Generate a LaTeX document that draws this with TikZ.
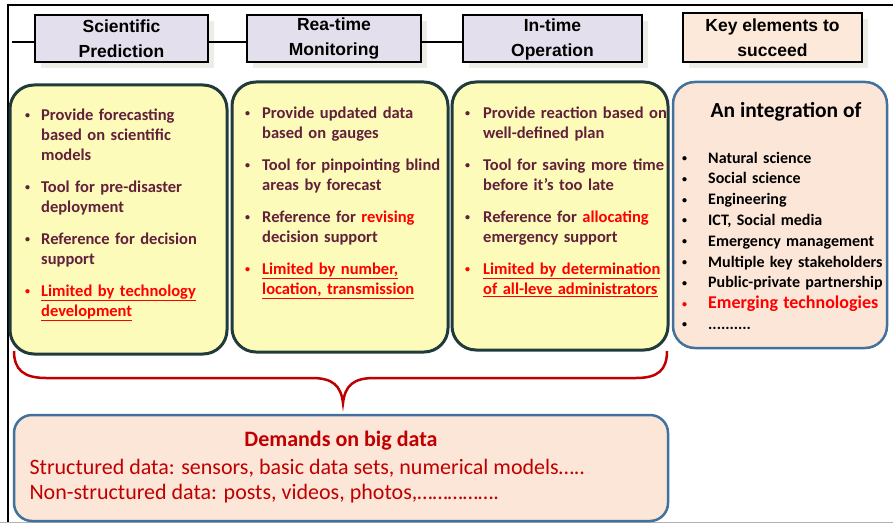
\documentclass[tikz,border=0pt]{standalone}
\usepackage{fontspec}
\setmainfont{Carlito}
\newfontfamily\hdrfont{Liberation Sans}
\usepackage{enumitem}
\usetikzlibrary{positioning, shadows}

\definecolor{hdrfill}{HTML}{E4DFEC}
\definecolor{keyfill}{HTML}{FDE9D9}
\definecolor{yelfill}{HTML}{FCFBBA}
\definecolor{darkedge}{HTML}{213B3C}
\definecolor{blueedge}{HTML}{41719C}
\definecolor{peachfill}{HTML}{FCE6D8}
\definecolor{maroon}{HTML}{62203A}
\definecolor{brightred}{HTML}{FF0000}
\definecolor{darkred}{HTML}{C00000}
\definecolor{shadowgray}{HTML}{EDECE7}

\newcommand{\smbul}{\raisebox{1.5pt}{\fontsize{10}{10}\selectfont\textbullet}}
\newcommand{\redul}[1]{\textcolor{brightred}{\underline{#1}}}
\newcommand{\reditem}{\item[\textcolor{brightred}{\smbul}]}
\setlist[itemize]{label=\smbul, labelwidth=5pt, parsep=0pt, topsep=0pt}

\tikzset{
    hdrbox/.style={draw=black, line width=2pt, fill=hdrfill, minimum height=47pt, inner sep=0pt, align=center,
        font=\hdrfont\bfseries\fontsize{17.5}{25}\selectfont,
        drop shadow={shadow xshift=6pt, shadow yshift=-6pt, fill=shadowgray, opacity=1}},
    yelbox/.style={draw=darkedge, line width=3pt, fill=yelfill, rounded corners=24pt, inner sep=0pt},
    peachbox/.style={draw=blueedge, line width=2.5pt, fill=peachfill, rounded corners=22pt, inner sep=0pt},
    boxtext/.style={anchor=north west, inner sep=0pt, text width=230pt, text=maroon,
        font=\bfseries\fontsize{16.5}{20}\selectfont},
}

\begin{document}
\begin{tikzpicture}[x=1pt, y=-1pt]
    \useasboundingbox (0,0) rectangle (893,524);

    % frame
    \draw [line width=1.5pt] (893,5) -- (8,5) -- (8,522);
    \draw [gray!60, line width=1.5pt] (0,522.5) -- (893,522.5);

    % header row
    \node (sci) [hdrbox, minimum width=173pt] at (121.5,39) {Scientific\\Prediction};
    \node (rea) [hdrbox, minimum width=174pt] at (334,39) {Rea-time\\Monitoring};
    \node (opr) [hdrbox, minimum width=179pt] at (552.5,39) {In-time\\Operation};
    \node (key) [hdrbox, fill=keyfill, minimum width=179pt, minimum height=49pt] at (772.5,38) {Key elements to\\succeed};
    \coordinate (lstart) at (12,42);
    \draw [line width=2.5pt] (lstart) -- (lstart -| sci.west);
    \draw [line width=2.5pt] (lstart -| sci.east) -- (lstart -| rea.west);
    \draw [line width=2.5pt] (lstart -| rea.east) -- (lstart -| opr.west);

    % yellow boxes
    \node (predbox) [yelbox, minimum width=217pt, minimum height=269pt] at (118.5,219.5) {};
    \node (monbox) [yelbox, minimum width=216pt, minimum height=270pt] at (340,217) {};
    \node (oprbox) [yelbox, minimum width=216pt, minimum height=268pt] at (560,216) {};
    \node (intbox) [peachbox, minimum width=214pt, minimum height=266pt] at (780,215) {};

    \node (predtxt) [boxtext] at (25,100) {%
        \begin{itemize}[leftmargin=16pt, labelsep=11pt, itemsep=12pt]
        \item Provide forecasting\\based on scientific\\models
        \item Tool for pre-disaster\\deployment
        \item Reference for decision\\support
        \reditem \redul{Limited by technology}\\\redul{development}
        \end{itemize}};
    \node (montxt) [boxtext] at (245,98) {%
        \begin{itemize}[leftmargin=17pt, labelsep=12pt, itemsep=12pt]
        \item Provide updated data\\based on gauges
        \item Tool for pinpointing blind\\areas by forecast
        \item Reference for \textcolor{brightred}{revising}\\decision support
        \reditem \redul{Limited by number,}\\\redul{location, transmission}
        \end{itemize}};
    \node (oprtxt) [boxtext] at (465,98) {%
        \begin{itemize}[leftmargin=18pt, labelsep=13pt, itemsep=12pt]
        \item Provide reaction based on\\well-defined plan
        \item Tool for saving more time\\before it’s too late
        \item Reference for \textcolor{brightred}{allocating}\\emergency support
        \reditem \redul{Limited by determination}\\\redul{of all-leve administrators}
        \end{itemize}};

    \node (inttitle) [font=\bfseries\fontsize{21.5}{26}\selectfont] at (786,112) {An integration of};
    \node (inttxt) [boxtext, text=black, font=\bfseries\fontsize{16}{20.8}\selectfont] at (682,142) {%
        \begin{itemize}[leftmargin=26pt, labelsep=21pt, itemsep=0pt]
        \item Natural science
        \item Social science
        \item Engineering
        \item ICT, Social media
        \item Emergency management
        \item Multiple key stakeholders
        \item Public-private partnership
        \reditem \textcolor{brightred}{\fontsize{18}{20.8}\selectfont Emerging technologies}
        \item ..........
        \end{itemize}};

    % brace
    \coordinate (bl) at (14,351);
    \coordinate (tip) at (343,403);
    \coordinate (br) at (667,351);
    \draw [darkred, line width=2.5pt] (bl) .. controls (14,370) and (24,378) .. (46,378) -- (312,378)
        .. controls (333,378) and (341,386) .. (tip)
        .. controls (345,386) and (353,378) .. (374,378) -- (636,378)
        .. controls (658,378) and (667,370) .. (br);

    % demands box
    \node (demand) [peachbox, rounded corners=18pt, minimum width=654pt, minimum height=106pt] at (341,468) {};
    \node (dtitle) [text=darkred, font=\bfseries\fontsize{22}{26}\selectfont] at (341,441) {Demands on big data};
    \node (dline1) [anchor=west, text=darkred, font=\fontsize{22}{26}\selectfont] at (26,468) {Structured data: sensors, basic data sets, numerical models…..};
    \node (dline2) [anchor=west, text=darkred, font=\fontsize{22}{26}\selectfont] at (26,494) {Non-structured data: posts, videos, photos,…………….};
\end{tikzpicture}
\end{document}
